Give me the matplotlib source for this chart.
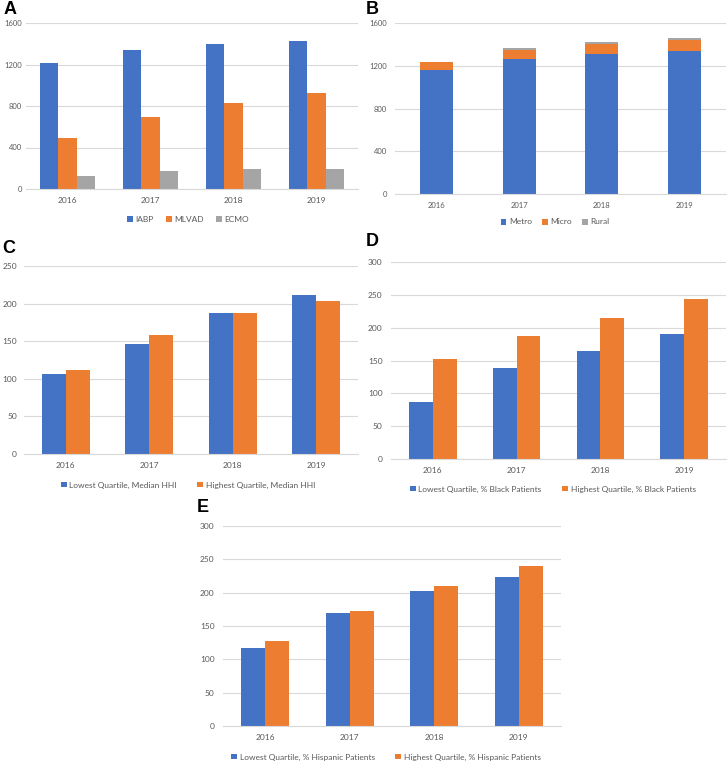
import matplotlib
matplotlib.use('Agg')
import matplotlib.pyplot as plt
import numpy as np

# -----------------------------
# Data
# -----------------------------
years = ["2016", "2017", "2018", "2019"]

# A - device counts
iabp = [1210, 1340, 1398, 1430]
mlvad = [488, 690, 826, 930]
ecmo = [128, 173, 192, 190]

# B - stacked by location
metro = [1162, 1261, 1311, 1342]
micro = [74, 90, 96, 103]
rural = [3, 13, 16, 12]

# C - market concentration
hhi_low = [107, 146, 188, 211]
hhi_high = [112, 158, 187, 203]

# D - % black patients
black_low = [87, 139, 164, 191]
black_high = [152, 187, 215, 243]

# E - % hispanic patients
hisp_low = [117, 169, 202, 223]
hisp_high = [127, 173, 210, 240]

BLUE = "#4472C4"
ORANGE = "#ED7D31"
GRAY = "#A5A5A5"
TXT = "#595959"
GRID = "#D9D9D9"

plt.rcParams['font.family'] = ['Lato', 'DejaVu Sans']

W, H = 728, 763
fig = plt.figure(figsize=(W / 100, H / 100), dpi=100)


def px_axes(left, top, right, bottom):
    return fig.add_axes([left / W, 1 - bottom / H, (right - left) / W, (bottom - top) / H])


def style(ax, ymax, step):
    ax.set_xlim(-0.5, 3.5)
    ax.set_ylim(0, ymax)
    ax.set_yticks(range(0, ymax + 1, step))
    ax.set_xticks(range(len(years)))
    ax.set_xticklabels(years)
    ax.grid(axis='y', color=GRID, lw=0.8)
    ax.set_axisbelow(True)
    for s in ["top", "right", "left"]:
        ax.spines[s].set_visible(False)
    ax.spines["bottom"].set_color(GRID)
    ax.spines["bottom"].set_linewidth(0.8)
    ax.tick_params(length=0, labelsize=6, colors=TXT)
    ax.tick_params(axis='y', pad=6)
    ax.tick_params(axis='x', pad=6)


def legend(ax, cx, cy, ncol, gap=1.5):
    h, l = ax.get_legend_handles_labels()
    fig.legend(h, l, loc="center", bbox_to_anchor=(cx / W, 1 - cy / H), ncol=ncol,
               frameon=False, fontsize=6, handlelength=0.7, handleheight=0.7,
               handletextpad=0.3, columnspacing=gap, labelcolor=TXT)


def label(x, y, s):
    fig.text(x / W, 1 - y / H, s, fontsize=13, fontweight="bold",
             family="Liberation Sans", va="top", ha="left")


x = np.arange(len(years))

# A
ax = px_axes(26, 23, 358, 189)
w = 0.22
ax.bar(x - w, iabp, w, color=BLUE, label="IABP")
ax.bar(x, mlvad, w, color=ORANGE, label="MLVAD")
ax.bar(x + w, ecmo, w, color=GRAY, label="ECMO")
style(ax, 1600, 400)
ax.tick_params(axis='y', pad=3, labelsize=5.5)
legend(ax, 188, 219, 3)
label(4, 1, "A")

# B
ax = px_axes(395, 23, 726, 194)
w = 0.4
ax.bar(x, metro, w, color=BLUE, label="Metro")
ax.bar(x, micro, w, bottom=metro, color=ORANGE, label="Micro")
ax.bar(x, rural, w, bottom=np.add(metro, micro), color=GRAY, label="Rural")
style(ax, 1600, 400)
ax.tick_params(labelsize=5.5)
legend(ax, 555, 222, 3, gap=1.2)
label(366, 1, "B")

# C
ax = px_axes(24, 266, 358, 454)
w = 0.285
ax.bar(x - w / 2, hhi_low, w, color=BLUE, label="Lowest Quartile, Median HHI")
ax.bar(x + w / 2, hhi_high, w, color=ORANGE, label="Highest Quartile, Median HHI")
style(ax, 250, 50)
ax.tick_params(axis='y', pad=5)
legend(ax, 188, 485, 2, gap=2.5)
label(2, 240, "C")

# D
ax = px_axes(391, 262, 726, 459)
ax.bar(x - w / 2, black_low, w, color=BLUE, label="Lowest Quartile, % Black Patients")
ax.bar(x + w / 2, black_high, w, color=ORANGE, label="Highest Quartile, % Black Patients")
style(ax, 300, 50)
legend(ax, 553, 489, 2, gap=2.5)
label(366, 233, "D")

# E
ax = px_axes(223, 526, 561, 726)
ax.bar(x - w / 2, hisp_low, w, color=BLUE, label="Lowest Quartile, % Hispanic Patients")
ax.bar(x + w / 2, hisp_high, w, color=ORANGE, label="Highest Quartile, % Hispanic Patients")
style(ax, 300, 50)
legend(ax, 386, 757, 2, gap=2.5)
label(197, 499, "E")

fig.savefig("out.png", dpi=100, facecolor="white")
plt.close()
